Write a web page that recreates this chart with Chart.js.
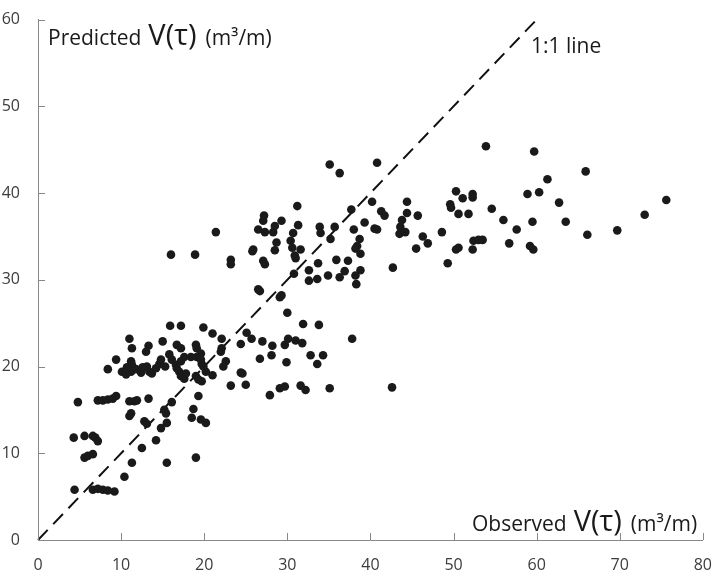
<!DOCTYPE html>
<html>
<head>
<meta charset="utf-8">
<script src="https://cdn.jsdelivr.net/npm/chart.js@4.4.1/dist/chart.umd.min.js"></script>
<style>
  html, body { margin: 0; padding: 0; background: #ffffff; }
  #wrap { width: 720px; height: 575px; position: relative; }
</style>
</head>
<body>
<div id="wrap"><canvas id="c" width="720" height="575"></canvas></div>
<script>
// Observed V(tau) (m3/m)
const observed = [
  4.8, 7.2, 7.8, 8.4, 9.0, 9.4, 11.0, 11.6, 11.9, 13.3, 16.1, 19.3, 11.2, 11.0, 12.8, 13.1, 15.2, 15.4, 15.5, 14.8,
  18.7, 18.5, 19.6, 20.2, 4.3, 5.6, 6.6, 6.9, 7.2, 14.2, 12.5, 5.6, 6.0, 6.6, 11.3, 15.5, 19.0, 10.4, 4.4, 6.6,
  7.2, 7.8, 8.4, 9.2,
  15.9, 17.2, 19.9, 11.0, 11.3, 13.3, 13.0, 15.0, 16.7, 17.2, 19.0, 19.1, 19.6, 9.4, 8.4, 11.2, 11.3, 10.1, 10.6, 11.2,
  11.8, 12.4, 13.1, 13.4, 13.7, 14.2, 14.6, 14.8, 15.8, 16.1, 16.6, 16.7, 17.2, 17.6, 18.4, 17.0, 17.2, 17.6, 17.8, 19.1,
  19.6, 19.7, 19.9, 20.2, 19.0, 19.3, 19.7, 10.7, 12.6, 15.3,
  30.0, 31.9, 33.8, 21.0, 22.1, 25.1, 25.7, 24.4, 27.0, 28.2, 29.7, 30.1, 31.0, 31.8, 22.1, 22.0, 22.6, 22.3, 26.7, 28.1,
  29.9, 32.8, 34.3, 33.6, 21.0, 24.4, 24.6, 23.2, 25.0, 29.1, 29.7, 31.6, 32.2, 35.1, 27.9,
  31.3, 33.9, 34.0, 35.7, 35.2, 38.0, 39.3, 40.5, 40.8, 43.6, 43.5, 44.2, 46.3, 46.9, 45.5, 38.7, 38.4, 38.2, 38.8, 30.7,
  30.4, 30.6, 30.9, 31.0, 31.6, 30.8, 32.6, 32.6, 33.6, 33.7, 34.9, 35.9, 37.3, 36.9, 36.3, 38.8, 38.2, 38.3, 42.7, 37.8,
  42.6,
  35.1, 36.3, 40.8, 40.2, 41.3, 41.7, 37.7, 31.2, 28.7, 28.5, 25.9, 27.2, 27.1, 26.5, 27.3, 28.3, 28.5, 29.3,
  16.0, 18.9, 21.4, 23.2, 23.2, 25.8, 27.1, 27.3, 26.5, 26.7, 29.3, 29.1,
  53.9, 59.7, 50.3, 51.1, 52.3, 52.3, 49.6, 49.7, 58.9, 44.4, 44.4, 43.8, 45.7, 50.6, 51.8, 54.6, 56.0, 59.5, 57.6, 48.6,
  50.6, 50.3, 52.4, 53.0, 53.5, 52.3, 56.7, 59.2, 59.6, 49.3,
  65.9, 61.3, 60.3, 62.7, 75.6, 73.0, 63.5, 66.1, 69.7
];
// Predicted V(tau) (m3/m)
const predicted = [
  15.9, 16.1, 16.1, 16.2, 16.3, 16.6, 16.0, 16.0, 16.1, 16.3, 15.9, 16.6, 14.6, 14.3, 13.7, 13.4, 15.0, 14.6, 13.5, 12.9,
  15.1, 14.1, 13.9, 13.5, 11.8, 12.0, 12.0, 11.8, 11.4, 11.5, 10.6, 9.5, 9.7, 9.9, 8.9, 8.9, 9.5, 7.3, 5.8, 5.8,
  5.9, 5.8, 5.7, 5.6,
  24.7, 24.7, 24.5, 23.2, 22.1, 22.4, 21.7, 22.9, 22.5, 22.1, 22.5, 22.1, 21.5, 20.8, 19.7, 20.6, 20.2, 19.4, 19.1, 19.4,
  19.7, 19.3, 20.0, 19.4, 19.2, 19.8, 20.3, 20.8, 21.4, 20.8, 20.2, 19.8, 20.6, 21.1, 21.1, 19.4, 18.9, 18.6, 19.2, 21.1,
  20.8, 20.3, 20.0, 19.4, 18.9, 18.5, 18.3, 19.9, 19.9, 20.0,
  26.2, 24.9, 24.8, 23.8, 23.2, 23.9, 23.2, 22.6, 22.9, 22.4, 22.5, 23.2, 23.0, 22.7, 22.1, 21.7, 20.6, 20.0, 20.9, 21.3,
  20.5, 21.3, 21.3, 20.3, 19.0, 19.3, 19.2, 17.8, 17.9, 17.5, 17.7, 17.8, 17.3, 17.5, 16.7,
  36.3, 36.1, 35.4, 36.1, 34.7, 35.8, 36.6, 35.9, 35.8, 36.1, 35.3, 35.5, 35.0, 34.2, 33.6, 34.7, 33.9, 33.6, 33.0, 35.4,
  34.5, 33.7, 32.8, 32.5, 33.5, 30.7, 31.1, 29.9, 30.1, 31.9, 30.5, 32.3, 32.2, 31.0, 30.3, 31.1, 30.5, 29.5, 31.4, 23.2,
  17.6,
  43.3, 42.3, 43.5, 39.0, 37.9, 37.4, 38.1, 38.5, 34.3, 33.4, 33.5, 37.4, 36.8, 35.8, 35.5, 35.5, 36.2, 36.8,
  32.9, 32.9, 35.5, 32.3, 31.8, 33.3, 32.2, 31.8, 28.9, 28.7, 28.2, 28.0,
  45.4, 44.8, 40.2, 39.4, 39.9, 39.5, 38.7, 38.3, 39.9, 39.0, 37.7, 36.9, 37.4, 37.6, 37.6, 38.2, 36.9, 36.7, 35.8, 35.5,
  33.7, 33.5, 34.5, 34.6, 34.6, 33.5, 34.2, 33.9, 33.5, 31.9,
  42.5, 41.6, 40.1, 38.9, 39.2, 37.5, 36.7, 35.2, 35.7
];
// 1:1 reference line end points
const lineObserved = [0, 60];
const linePredicted = [0, 60];
// Axis ticks
const xTicks = [0, 10, 20, 30, 40, 50, 60, 70, 80];
const yTicks = [0, 10, 20, 30, 40, 50, 60];

const axisColor = '#888888';
const tickTextColor = '#3c3c3c';
const fontFam = '"Open Sans", "Noto Sans", sans-serif';

const scatterPoints = observed.map((v, i) => ({ x: v, y: predicted[i] }));
const linePoints = lineObserved.map((v, i) => ({ x: v, y: linePredicted[i] }));

function drawAxisLabel(ctx, x0, baseline, word) {
  const parts = [
    { t: word, f: '21px ' + fontFam },
    { t: 'V(τ)', f: '29px ' + fontFam },
    { t: '(m³/m)', f: '21px ' + fontFam }
  ];
  let x = x0;
  parts.forEach((p, i) => {
    ctx.font = p.f;
    ctx.fillText(p.t, x, baseline);
    x += ctx.measureText(p.t).width + (i === 0 ? 7 : 9);
  });
}

const overlay = {
  id: 'overlay',
  afterDraw(chart) {
    const { ctx, scales: { x, y } } = chart;
    ctx.save();
    ctx.strokeStyle = axisColor;
    ctx.lineWidth = 1;
    xTicks.forEach(v => {
      const px = Math.round(x.getPixelForValue(v)) + 0.5;
      ctx.beginPath();
      ctx.moveTo(px, y.bottom);
      ctx.lineTo(px, y.bottom - 7);
      ctx.stroke();
    });
    yTicks.forEach(v => {
      const py = Math.round(y.getPixelForValue(v)) + 0.5;
      ctx.beginPath();
      ctx.moveTo(x.left, py);
      ctx.lineTo(x.left + 7, py);
      ctx.stroke();
    });
    ctx.fillStyle = '#1a1a1a';
    ctx.textBaseline = 'alphabetic';
    ctx.textAlign = 'left';
    drawAxisLabel(ctx, 48, 45, 'Predicted');
    drawAxisLabel(ctx, 472, 531, 'Observed');
    ctx.font = '21px ' + fontFam;
    ctx.fillText('1:1 line', 531, 53);
    ctx.restore();
  }
};

new Chart(document.getElementById('c'), {
  type: 'scatter',
  data: {
    datasets: [
      {
        label: 'Observed vs predicted',
        data: scatterPoints,
        backgroundColor: '#1a1a1a',
        borderColor: '#1a1a1a',
        borderWidth: 0,
        pointRadius: 4.3,
        pointHoverRadius: 4.3
      },
      {
        type: 'line',
        label: '1:1 line',
        data: linePoints,
        borderColor: '#111111',
        borderWidth: 2,
        borderDash: [14, 8],
        pointRadius: 0,
        fill: false,
        clip: false
      }
    ]
  },
  options: {
    responsive: false,
    animation: false,
    events: [],
    layout: { padding: { top: 14, right: 12, left: 0, bottom: 0 } },
    plugins: { legend: { display: false }, tooltip: { enabled: false } },
    scales: {
      x: {
        type: 'linear',
        min: xTicks[0],
        max: xTicks[xTicks.length - 1],
        grid: { display: false },
        border: { display: true, color: axisColor, width: 1 },
        ticks: {
          stepSize: 10,
          color: tickTextColor,
          padding: 8,
          font: { family: fontFam, size: 16 }
        },
        afterFit(scale) { scale.height = 35; }
      },
      y: {
        type: 'linear',
        min: yTicks[0],
        max: yTicks[yTicks.length - 1],
        grid: { display: false },
        border: { display: true, color: axisColor, width: 1 },
        ticks: {
          stepSize: 10,
          color: tickTextColor,
          padding: 10,
          font: { family: fontFam, size: 16 }
        },
        afterFit(scale) { scale.width = 38; }
      }
    }
  },
  plugins: [overlay]
});
</script>
</body>
</html>
